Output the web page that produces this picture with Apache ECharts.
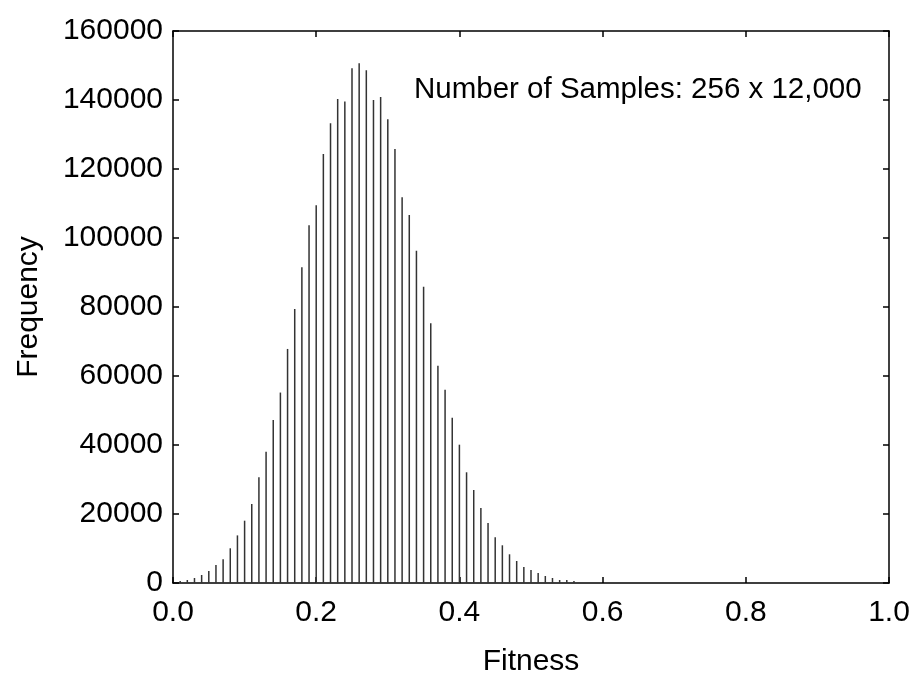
<!DOCTYPE html>
<html>
<head>
<meta charset="utf-8">
<script src="https://cdn.jsdelivr.net/npm/echarts@6/dist/echarts.min.js"></script>
<style>html,body{margin:0;padding:0;background:#fff}#c{width:914px;height:675px}</style>
</head>
<body>
<div id="c"></div>
<script>
const fitness = [0.01,0.02,0.03,0.04,0.05,0.06,0.07,0.08,0.09,0.10,
  0.11,0.12,0.13,0.14,0.15,0.16,0.17,0.18,0.19,0.20,
  0.21,0.22,0.23,0.24,0.25,0.26,0.27,0.28,0.29,0.30,
  0.31,0.32,0.33,0.34,0.35,0.36,0.37,0.38,0.39,0.40,
  0.41,0.42,0.43,0.44,0.45,0.46,0.47,0.48,0.49,0.50,
  0.51,0.52,0.53,0.54,0.55,0.56];
const frequency = [580,870,1450,2320,3480,5220,6870,10060,13800,18060,
  22900,30640,38060,47250,55200,67840,79430,91520,103700,109500,
  124370,133270,140300,139530,149210,150660,148630,140020,140890,134430,
  125820,111810,106680,96330,85850,75290,62950,56050,47920,40090,
  32090,26960,21740,17390,13250,10930,8320,6380,4640,3770,
  2900,2030,1450,870,870,580];
const xTicks = ['0.0','0.2','0.4','0.6','0.8','1.0'];
const yTicks = ['0','20000','40000','60000','80000','100000','120000','140000','160000'];
const annotation = 'Number of Samples: 256 x 12,000';

const FONT = 'Liberation Sans, Arial, Helvetica, sans-serif';
const chart = echarts.init(document.getElementById('c'), null, {renderer: 'canvas'});
const axisLine = {show: true, onZero: false, lineStyle: {color: '#000', width: 1.5}};
const tick = {show: true, inside: true, length: 6, lineStyle: {color: '#000', width: 1.5}};
chart.setOption({
  animation: false,
  backgroundColor: '#fff',
  grid: {left: 173, right: 25, top: 31, bottom: 92, containLabel: false, outerBoundsMode: 'none'},
  xAxis: [{
    type: 'value', min: 0, max: 1, interval: 0.2, position: 'bottom',
    axisLine, axisTick: tick, splitLine: {show: false},
    axisLabel: {fontFamily: FONT, fontSize: 30, color: '#000', margin: 15,
      formatter: v => xTicks[Math.round(v / 0.2)]},
    name: 'Fitness', nameLocation: 'middle', nameGap: 64,
    nameTextStyle: {fontFamily: FONT, fontSize: 30, color: '#000'}
  }, {
    type: 'value', min: 0, max: 1, interval: 0.2, position: 'top',
    axisLine, axisTick: tick, axisLabel: {show: false}, splitLine: {show: false}
  }],
  yAxis: [{
    type: 'value', min: 0, max: 160000, interval: 20000, position: 'left',
    axisLine, axisTick: tick, splitLine: {show: false},
    axisLabel: {fontFamily: FONT, fontSize: 30, color: '#000', margin: 10,
      formatter: v => yTicks[Math.round(v / 20000)]},
    name: 'Frequency', nameLocation: 'middle', nameGap: 129, nameRotate: 90,
    nameTextStyle: {fontFamily: FONT, fontSize: 30, color: '#000'}
  }, {
    type: 'value', min: 0, max: 160000, interval: 20000, position: 'right',
    axisLine, axisTick: tick, axisLabel: {show: false}, splitLine: {show: false}
  }],
  graphic: [{
    type: 'text', left: 414, top: 75,
    style: {text: annotation, fontFamily: FONT, fontSize: 29.5, fill: '#000'}
  }],
  series: [{
    type: 'bar', xAxisIndex: 0, yAxisIndex: 0,
    barWidth: 1.5,
    itemStyle: {color: '#333'},
    data: fitness.map((x, i) => [x, frequency[i]])
  }]
});
</script>
</body>
</html>
